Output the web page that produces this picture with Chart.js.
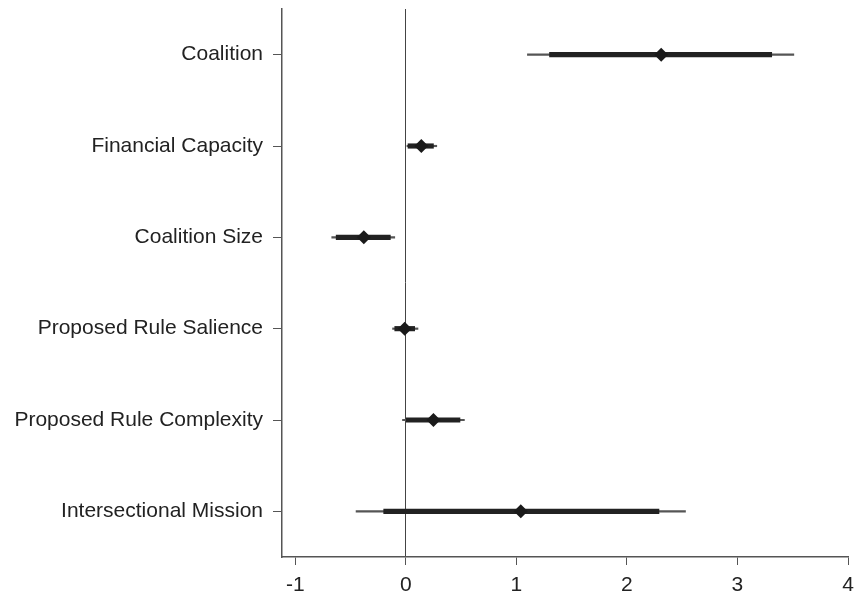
<!DOCTYPE html>
<html>
<head>
<meta charset="utf-8">
<script src="https://cdn.jsdelivr.net/npm/chart.js@4"></script>
<style>
  html, body { margin: 0; padding: 0; background: #fff; }
  #wrap { width: 855px; height: 594px; }
</style>
</head>
<body>
<div id="wrap"><canvas id="coefPlot"></canvas></div>
<script>
var labels = ['Coalition', 'Financial Capacity', 'Coalition Size', 'Proposed Rule Salience', 'Proposed Rule Complexity', 'Intersectional Mission'];
var estimate = [2.31, 0.14, -0.38, -0.01, 0.25, 1.04];
var lo95 = [1.10, 0.01, -0.67, -0.12, -0.03, -0.45];
var hi95 = [3.51, 0.28, -0.10, 0.11, 0.53, 2.53];
var lo90 = [1.30, 0.02, -0.63, -0.10, 0.00, -0.20];
var hi90 = [3.31, 0.25, -0.14, 0.08, 0.49, 2.29];
var xTicks = [-1, 0, 1, 2, 3, 4];

var font = { family: '"Liberation Sans", Arial, Helvetica, sans-serif', size: 21 };

var wide = [], narrow = [];
for (var i = 0; i < labels.length; i++) {
  wide.push([lo95[i], hi95[i]]);
  narrow.push([lo90[i], hi90[i]]);
}

var ctx = document.getElementById('coefPlot');

var coefChart = new Chart(ctx, {
  type: 'bar',
  data: {
    labels: labels,
    datasets: [
      {
        data: wide,
        backgroundColor: '#555',
        barThickness: 1.5,
        grouped: false,
        order: 3
      },
      {
        data: narrow,
        backgroundColor: '#222',
        barThickness: 4.5,
        grouped: false,
        order: 2
      },
      {
        type: 'line',
        indexAxis: 'y',
        data: estimate,
        showLine: false,
        pointStyle: 'rectRot',
        pointRadius: 7,
        pointBackgroundColor: '#1a1a1a',
        pointBorderColor: '#1a1a1a',
        pointBorderWidth: 0,
        order: 1
      }
    ]
  },
  options: {
    indexAxis: 'y',
    responsive: true,
    maintainAspectRatio: false,
    animation: false,
    layout: { padding: { top: 9, right: 0, left: 0, bottom: 0 } },
    plugins: { legend: { display: false }, tooltip: { enabled: false } },
    scales: {
      x: {
        type: 'linear',
        min: -1.12,
        max: 4.0,
        afterBuildTicks: function(scale) {
          scale.ticks = xTicks.map(function(v) { return { value: v }; });
        },
        afterFit: function(scale) {
          scale.height = 37;
          scale.paddingLeft = 0;
          scale.paddingRight = 0;
        },
        border: { display: true, color: '#555', width: 1.5 },
        grid: {
          color: function(c) { return c.tick && c.tick.value === 0 ? '#444' : 'rgba(0,0,0,0)'; },
          lineWidth: 1,
          tickColor: '#555',
          tickLength: 8
        },
        ticks: { color: '#222', font: font, padding: 8, maxRotation: 0 }
      },
      y: {
        type: 'category',
        offset: true,
        afterFit: function(scale) {
          scale.width = 282;
          scale.paddingTop = 0;
          scale.paddingBottom = 0;
        },
        border: { display: true, color: '#555', width: 1.5 },
        grid: {
          offset: false,
          drawOnChartArea: false,
          tickColor: '#555',
          tickLength: 9
        },
        ticks: { color: '#222', font: font, padding: 10 }
      }
    }
  }
});
</script>
</body>
</html>
